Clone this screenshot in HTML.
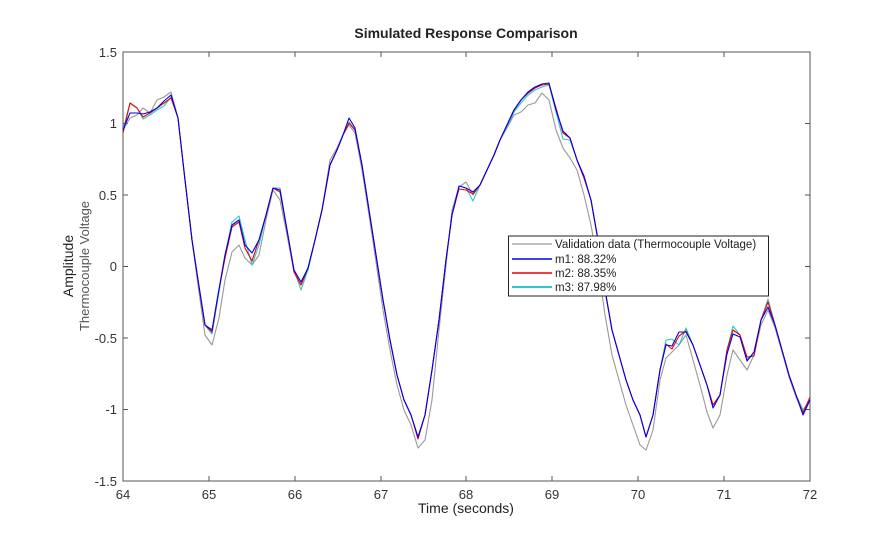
<!DOCTYPE html>
<html><head><meta charset="utf-8"><style>
body{margin:0;background:#fff}
svg text{font-family:"Liberation Sans",sans-serif}
</style></head><body>
<svg width="895" height="540" viewBox="0 0 895 540" xmlns="http://www.w3.org/2000/svg">
<rect width="895" height="540" fill="#fff"/>
<text x="466" y="38" font-size="14" font-weight="bold" text-anchor="middle" fill="#222">Simulated Response Comparison</text>
<g stroke="#555" stroke-width="1" fill="none">
<rect x="123" y="52" width="687" height="429"/>
<path d="M209,52v5M295,52v5M381,52v5M466,52v5M552,52v5M638,52v5M724,52v5M209,481v-5M295,481v-5M381,481v-5M466,481v-5M552,481v-5M638,481v-5M724,481v-5"/>
<path d="M123,123.5h5M123,195h5M123,266.5h5M123,338h5M123,409.5h5M810,123.5h-5M810,195h-5M810,266.5h-5M810,338h-5M810,409.5h-5"/>
</g>
<g font-size="13" fill="#333" text-anchor="end">
<text x="117" y="57">1.5</text><text x="117" y="128">1</text><text x="117" y="200">0.5</text><text x="117" y="271">0</text><text x="117" y="343">-0.5</text><text x="117" y="414">-1</text><text x="117" y="486">-1.5</text>
</g>
<g font-size="13" fill="#333" text-anchor="middle">
<text x="123" y="499">64</text><text x="209" y="499">65</text><text x="295" y="499">66</text><text x="381" y="499">67</text><text x="466" y="499">68</text><text x="552" y="499">69</text><text x="638" y="499">70</text><text x="724" y="499">71</text><text x="810" y="499">72</text>
</g>
<text x="466" y="513" font-size="14" text-anchor="middle" fill="#222">Time (seconds)</text>
<text transform="translate(73,266) rotate(-90)" font-size="14" text-anchor="middle" fill="#222">Amplitude</text>
<text transform="translate(89,266) rotate(-90)" font-size="13" text-anchor="middle" fill="#555">Thermocouple Voltage</text>
<g fill="none" stroke-width="1.1" stroke-linejoin="round">
<polyline stroke="#999" points="123,130 130,118 137,115 143,108 150,113 157,100 164,97 171,92 178,118 185,180 192,240 198,285 205,335 212,345 219,318 225,280 232,252 239,245 245,258 252,265 259,255 266,220 273,190 280,200 287,235 294,272 301,285 308,270 315,240 322,210 330,160 337,148 343,135 349,125 355,133 362,170 369,215 376,262 383,310 390,350 397,385 404,410 411,425 418,448 425,440 432,400 439,330 446,265 452,210 459,187 466,182 473,195 480,185 487,170 494,155 500,140 507,128 514,115 521,112 528,105 535,103 542,93 549,100 556,130 563,148 570,158 577,170 584,195 591,225 598,265 605,315 612,355 619,380 626,405 633,425 640,445 646,450 653,430 660,380 666,358 672,352 679,345 686,335 693,360 700,385 707,412 713,428 720,415 727,375 733,350 740,360 747,370 754,355 761,325 768,310 775,328 782,352 789,377 796,397 803,412 810,400"/>
<polyline stroke="#2ec8c8" points="123,130 130,103 137,108 143,119 150,115 157,110 164,106 171,97 178,118 185,180 192,240 198,280 205,325 212,334 218,298 225,255 232,222 239,216 245,240 252,265 259,245 266,215 273,188 280,188 287,230 294,270 301,290 308,270 315,240 322,210 330,165 337,150 343,135 349,122 355,130 362,165 369,210 376,255 383,300 390,340 397,375 404,400 411,415 418,437 425,415 432,370 439,320 446,260 452,215 459,186 466,188 473,201 480,185 487,170 494,155 500,140 507,127 514,112 521,103 528,95 535,90 542,87 549,85 556,112 563,139 570,140 577,160 584,178 591,200 598,240 605,290 612,330 619,355 626,380 633,400 640,415 646,437 653,415 660,370 666,340 672,339 679,345 686,328 693,345 700,365 707,385 713,405 720,395 727,350 733,326 740,335 747,359 754,355 761,320 768,299 775,325 782,350 789,375 796,395 803,410 810,400"/>
<polyline stroke="#e00" points="123,133 130,103 137,108 143,117 150,113 157,108 164,103 171,98 178,118 185,180 192,240 198,280 205,325 212,332 218,295 225,258 232,227 239,222 245,248 252,261 259,240 266,215 273,188 280,192 287,230 294,272 301,285 308,268 315,240 322,210 330,165 337,150 343,135 349,123 355,130 362,165 369,210 376,255 383,300 390,340 397,375 404,400 411,415 418,439 425,415 432,370 439,320 446,260 452,215 459,189 466,190 473,194 480,185 487,170 494,155 500,140 507,125 514,110 521,100 528,93 535,88 542,85 549,84 556,108 563,133 570,138 577,160 584,178 591,200 598,240 605,290 612,330 619,355 626,380 633,400 640,415 646,437 653,415 660,370 666,344 672,349 679,336 686,331 693,345 700,365 707,385 713,405 720,395 727,350 733,330 740,335 747,357 754,356 761,320 768,302 775,325 782,350 789,375 796,395 803,413 810,397"/>
<polyline stroke="#00e" points="123,130 130,113 137,113 143,114 150,112 157,108 164,101 171,95 178,118 185,180 192,240 198,280 205,325 212,330 218,295 225,255 232,225 239,220 245,245 252,253 259,240 266,215 273,188 280,190 287,230 294,270 301,282 308,268 315,240 322,210 330,165 337,150 343,135 349,118 355,128 362,165 369,210 376,255 383,300 390,340 397,375 404,400 411,415 418,437 425,415 432,370 439,320 446,260 452,215 459,186 466,188 473,192 480,185 487,170 494,155 500,140 507,125 514,110 521,100 528,92 535,87 542,84 549,83 556,110 563,131 570,138 577,160 584,176 591,200 598,240 605,290 612,330 619,355 626,380 633,400 640,415 646,437 653,415 660,370 666,345 672,346 679,332 686,332 693,345 700,365 707,385 713,408 720,395 727,354 733,334 740,337 747,361 754,352 761,320 768,307 775,325 782,350 789,375 796,395 803,415 810,400"/>
</g>
<rect x="508.5" y="236" width="260" height="60" fill="#fff" stroke="#222" stroke-width="1"/>
<g stroke-width="1.4">
<line x1="512" y1="244" x2="552" y2="244" stroke="#aaa"/>
<line x1="512" y1="259" x2="552" y2="259" stroke="#00e"/>
<line x1="512" y1="273" x2="552" y2="273" stroke="#e00"/>
<line x1="512" y1="287" x2="552" y2="287" stroke="#2ec8c8" stroke-width="2"/>
</g>
<g font-size="11.5" fill="#222">
<text x="555" y="248">Validation data (Thermocouple Voltage)</text>
<text x="555" y="263">m1: 88.32%</text>
<text x="555" y="277">m2: 88.35%</text>
<text x="555" y="291">m3: 87.98%</text>
</g>
</svg>
</body></html>
